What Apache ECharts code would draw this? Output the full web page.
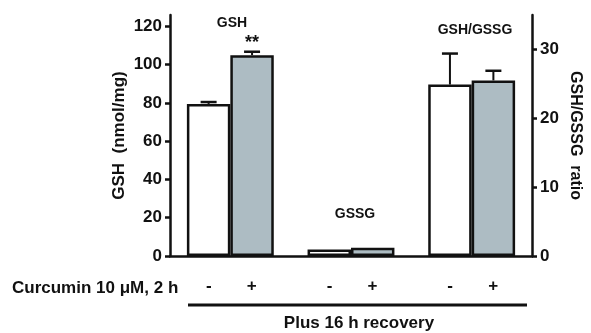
<!DOCTYPE html>
<html>
<head>
<meta charset="utf-8">
<script src="https://cdn.jsdelivr.net/npm/echarts@6/dist/echarts.min.js"></script>
<style>
  html, body { margin: 0; padding: 0; background: #fff; }
  #chart { width: 591px; height: 333px; }
</style>
</head>
<body>
<div id="chart"></div>
<script>
var groups = ['GSH', 'GSSG', 'GSH/GSSG'];
var signs = ['-', '+'];
// nmol/mg, left axis
var controlNmol = [79.5, 3.4, '-'];
var curcuminNmol = [105, 4.3, '-'];
var controlNmolErr = [1.0, 0, 0];
var curcuminNmolErr = [1.8, 0, 0];
// ratio, right axis
var controlRatio = ['-', '-', 24.9];
var curcuminRatio = ['-', '-', 25.5];
var controlRatioErr = [0, 0, 4.5];
var curcuminRatioErr = [0, 0, 1.4];
var leftTicks = [0, 20, 40, 60, 80, 100, 120];
var rightTicks = [0, 10, 20, 30];

var FONT = '"Liberation Sans", Arial, sans-serif';
var INK = '#111';
var GREY = '#adbcc3';
var CAT_GAP = 0.28;

function errData(vals, errs, side) {
  var out = [];
  vals.forEach(function(v, i) {
    if (v !== '-' && errs[i] > 0) out.push([i, v, errs[i], side]);
  });
  return out;
}

function errorItem(params, api) {
  var cat = api.value(0), val = api.value(1), err = api.value(2), side = api.value(3);
  var catW = api.size([1, 0])[0];
  var bw = catW * (1 - CAT_GAP) / 2;
  var base = api.coord([cat, val]);
  var top = api.coord([cat, val + err]);
  var x = base[0] + (side === 0 ? -bw / 2 : bw / 2);
  var half = 8;
  return {
    type: 'group',
    children: [
      { type: 'line', shape: { x1: x, y1: base[1], x2: x, y2: top[1] }, style: { stroke: INK, lineWidth: 2 } },
      { type: 'line', shape: { x1: x - half, y1: top[1], x2: x + half, y2: top[1] }, style: { stroke: INK, lineWidth: 2.5 } }
    ]
  };
}

var chart = echarts.init(document.getElementById('chart'), null, { renderer: 'canvas' });
var barBase = {
  type: 'bar',
  barGap: '0%',
  barCategoryGap: (CAT_GAP * 100) + '%',
  silent: true
};

chart.setOption({
  animation: false,
  backgroundColor: '#fff',
  textStyle: { fontFamily: FONT },
  grid: { left: 170, right: 59, top: 15, bottom: 77, containLabel: false, outerBoundsMode: 'none' },
  xAxis: [{
    type: 'category',
    data: groups,
    axisLine: { lineStyle: { color: INK, width: 2.5 } },
    axisTick: { show: false },
    axisLabel: {
      margin: 22,
      formatter: function() { return '{a|' + signs[0] + '}{b|' + signs[1] + '}'; },
      rich: {
        a: { width: 43, align: 'center', fontSize: 17, fontWeight: 'bold', color: INK, fontFamily: FONT },
        b: { width: 43, align: 'center', fontSize: 17, fontWeight: 'bold', color: INK, fontFamily: FONT }
      }
    }
  }, {
    type: 'category',
    data: groups,
    show: false
  }],
  yAxis: [{
    type: 'value',
    min: 0,
    max: 126,
    name: 'GSH  (nmol/mg)',
    nameLocation: 'middle',
    nameGap: 42,
    nameMoveOverlap: false,
    nameRotate: 90,
    nameTextStyle: { fontSize: 17, fontWeight: 'bold', color: INK, fontFamily: FONT },
    axisLine: { show: true, lineStyle: { color: INK, width: 2.5 } },
    axisTick: { show: true, length: 5, customValues: leftTicks, lineStyle: { color: INK, width: 2.5 } },
    axisLabel: { margin: 8, customValues: leftTicks, fontSize: 17, fontWeight: 'bold', color: INK, fontFamily: FONT },
    splitLine: { show: false }
  }, {
    type: 'value',
    position: 'right',
    min: 0,
    max: 35,
    name: 'GSH/GSSG  ratio',
    nameLocation: 'middle',
    nameGap: 35,
    nameMoveOverlap: false,
    nameRotate: -90,
    nameTextStyle: { fontSize: 16, fontWeight: 'bold', color: INK, fontFamily: FONT },
    axisLine: { show: true, lineStyle: { color: INK, width: 2.5 } },
    axisTick: { show: true, length: 5, customValues: rightTicks, lineStyle: { color: INK, width: 2.5 } },
    axisLabel: { margin: 8, customValues: rightTicks, fontSize: 17, fontWeight: 'bold', color: INK, fontFamily: FONT },
    splitLine: { show: false }
  }],
  series: [
    Object.assign({}, barBase, {
      name: 'control', xAxisIndex: 0, yAxisIndex: 0, data: controlNmol,
      itemStyle: { color: '#fff', borderColor: INK, borderWidth: 2.5 }
    }),
    Object.assign({}, barBase, {
      name: 'curcumin', xAxisIndex: 0, yAxisIndex: 0,
      data: curcuminNmol.map(function(v, i) {
        return i === 0 ? { value: v, label: { show: true, position: 'top', distance: 3, formatter: '**', fontSize: 18, fontWeight: 'bold', color: INK } } : v;
      }),
      itemStyle: { color: GREY, borderColor: INK, borderWidth: 2.5 }
    }),
    Object.assign({}, barBase, {
      name: 'control ratio', xAxisIndex: 1, yAxisIndex: 1, data: controlRatio,
      itemStyle: { color: '#fff', borderColor: INK, borderWidth: 2.5 }
    }),
    Object.assign({}, barBase, {
      name: 'curcumin ratio', xAxisIndex: 1, yAxisIndex: 1, data: curcuminRatio,
      itemStyle: { color: GREY, borderColor: INK, borderWidth: 2.5 }
    }),
    {
      type: 'custom', xAxisIndex: 0, yAxisIndex: 0, z: 5, silent: true,
      renderItem: errorItem, encode: { x: 0, y: 1 },
      data: errData(controlNmol, controlNmolErr, 0).concat(errData(curcuminNmol, curcuminNmolErr, 1))
    },
    {
      type: 'custom', xAxisIndex: 1, yAxisIndex: 1, z: 5, silent: true,
      renderItem: errorItem, encode: { x: 0, y: 1 },
      data: errData(controlRatio, controlRatioErr, 0).concat(errData(curcuminRatio, curcuminRatioErr, 1))
    }
  ],
  graphic: [
    { type: 'text', x: 232, y: 23, style: { text: 'GSH', font: 'bold 14px ' + FONT, fill: INK, align: 'center', verticalAlign: 'middle' } },
    { type: 'text', x: 355, y: 214, style: { text: 'GSSG', font: 'bold 14px ' + FONT, fill: INK, align: 'center', verticalAlign: 'middle' } },
    { type: 'text', x: 475, y: 30, style: { text: 'GSH/GSSG', font: 'bold 14px ' + FONT, fill: INK, align: 'center', verticalAlign: 'middle' } },
    { type: 'text', x: 12, y: 288, style: { text: 'Curcumin 10 \u03bcM, 2 h', font: 'bold 17px ' + FONT, fill: INK, align: 'left', verticalAlign: 'middle' } },
    { type: 'line', shape: { x1: 188, y1: 305, x2: 527, y2: 305 }, style: { stroke: INK, lineWidth: 3 } },
    { type: 'text', x: 359, y: 323, style: { text: 'Plus 16 h recovery', font: 'bold 17px ' + FONT, fill: INK, align: 'center', verticalAlign: 'middle' } }
  ]
});
window.addEventListener('resize', function() { chart.resize(); });
</script>
</body>
</html>
